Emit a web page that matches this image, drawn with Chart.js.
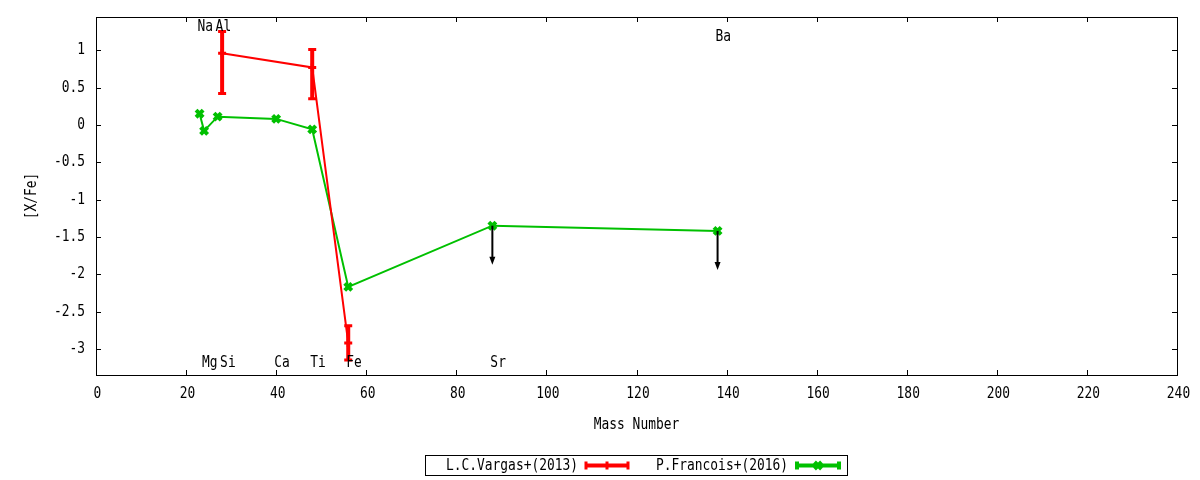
<!DOCTYPE html>
<html>
<head>
<meta charset="utf-8">
<script src="https://cdn.jsdelivr.net/npm/chart.js@4.4.0/dist/chart.umd.min.js"></script>
<style>
html, body { margin: 0; padding: 0; background: #fff; }
</style>
</head>
<body>
<canvas id="c" width="1200" height="480"></canvas>
<script>
// L.C.Vargas+(2013): value with asymmetric error bars
var vargasMass = [28, 48, 56];
var vargasVal = [0.96, 0.77, -2.92];
var vargasLow = [0.42, 0.35, -3.15];
var vargasHigh = [1.25, 1.01, -2.69];

// P.Francois+(2016): last two are upper limits
var francoisMass = [23, 24, 27, 40, 48, 56, 88, 138];
var francoisVal = [0.15, -0.08, 0.11, 0.08, -0.06, -2.17, -1.35, -1.42];
var francoisLimit = [false, false, false, false, false, false, true, true];

// element names written on the plot
var labelNames = ['Na', 'Mg', 'Al', 'Si', 'Ca', 'Ti', 'Fe', 'Sr', 'Ba'];
var labelMass = [23, 24, 27, 28, 40, 48, 56, 88, 138];
var labelY = [1.31, -3.19, 1.31, -3.19, -3.19, -3.19, -3.19, -3.19, 1.18];

var RED = '#ff0000';
var GREEN = '#00c000';
// gnuplot's mono font is narrower than DejaVu Sans Mono at the same height
var FONT = '16px "DejaVu Sans Mono"';
var SQUEEZE = 0.806;

Chart.defaults.font.family = '"DejaVu Sans Mono"';
Chart.defaults.font.size = 13;
Chart.defaults.color = '#000';

function pts(xs, ys) {
    var out = [];
    for (var i = 0; i < xs.length; i++) out.push({x: xs[i], y: ys[i]});
    return out;
}

function text(ctx, s, x, y, align, rot) {
    ctx.save();
    ctx.translate(x, y);
    if (rot) ctx.rotate(rot);
    ctx.scale(SQUEEZE, 1);
    ctx.font = FONT;
    ctx.fillStyle = '#000';
    ctx.textAlign = align;
    ctx.textBaseline = 'middle';
    ctx.fillText(s, 0, 0);
    ctx.restore();
}

function fmt(v) {
    return String(Math.round(v * 10) / 10);
}

function drawCapBar(ctx, x, y1, y2, color) {
    ctx.strokeStyle = color;
    ctx.lineWidth = 4;
    ctx.beginPath();
    ctx.moveTo(x, y1); ctx.lineTo(x, y2);
    ctx.stroke();
    ctx.lineWidth = 3;
    ctx.beginPath();
    ctx.moveTo(x - 4, y1); ctx.lineTo(x + 4, y1);
    ctx.moveTo(x - 4, y2); ctx.lineTo(x + 4, y2);
    ctx.stroke();
}

var gnuplotDecor = {
    id: 'gnuplotDecor',
    afterDatasetsDraw: function (chart) {
        var ctx = chart.ctx, xs = chart.scales.x, ys = chart.scales.y;
        ctx.save();
        // error bars
        for (var i = 0; i < vargasMass.length; i++) {
            var px = xs.getPixelForValue(vargasMass[i]);
            drawCapBar(ctx, px, ys.getPixelForValue(vargasHigh[i]), ys.getPixelForValue(vargasLow[i]), RED);
        }
        // upper limit arrows
        ctx.strokeStyle = '#000';
        ctx.fillStyle = '#000';
        ctx.lineWidth = 2;
        for (var j = 0; j < francoisMass.length; j++) {
            if (!francoisLimit[j]) continue;
            var ax = xs.getPixelForValue(francoisMass[j]);
            var ay = ys.getPixelForValue(francoisVal[j]);
            var tip = ay + 39;
            ctx.beginPath();
            ctx.moveTo(ax, ay); ctx.lineTo(ax, tip - 6);
            ctx.stroke();
            ctx.beginPath();
            ctx.moveTo(ax - 3, tip - 8); ctx.lineTo(ax + 3, tip - 8); ctx.lineTo(ax, tip);
            ctx.closePath();
            ctx.fill();
        }
        ctx.restore();
    },
    afterDraw: function (chart) {
        var ctx = chart.ctx, a = chart.chartArea, xs = chart.scales.x, ys = chart.scales.y;
        ctx.save();
        ctx.strokeStyle = '#000';
        ctx.lineWidth = 1;
        // border
        ctx.strokeRect(Math.round(a.left) + 0.5, Math.round(a.top) + 0.5,
            Math.round(a.right - a.left), Math.round(a.bottom - a.top));
        // inward ticks on all four sides, with their labels
        ctx.beginPath();
        xs.ticks.forEach(function (t) {
            var p = Math.round(xs.getPixelForValue(t.value)) + 0.5;
            ctx.moveTo(p, a.bottom); ctx.lineTo(p, a.bottom - 5);
            ctx.moveTo(p, a.top); ctx.lineTo(p, a.top + 5);
        });
        ys.ticks.forEach(function (t) {
            var p = Math.round(ys.getPixelForValue(t.value)) + 0.5;
            ctx.moveTo(a.left, p); ctx.lineTo(a.left + 5, p);
            ctx.moveTo(a.right, p); ctx.lineTo(a.right - 5, p);
        });
        ctx.stroke();
        xs.ticks.forEach(function (t) {
            text(ctx, fmt(t.value), xs.getPixelForValue(t.value) + 1.5, a.bottom + 19, 'center');
        });
        ys.ticks.forEach(function (t) {
            text(ctx, fmt(t.value), a.left - 11, ys.getPixelForValue(t.value), 'right');
        });

        // element labels
        for (var i = 0; i < labelNames.length; i++) {
            text(ctx, labelNames[i], xs.getPixelForValue(labelMass[i]) - 2, ys.getPixelForValue(labelY[i]), 'left');
        }

        // axis titles
        text(ctx, 'Mass Number', (a.left + a.right) / 2, 425, 'center');
        text(ctx, '[X/Fe]', 32, (a.top + a.bottom) / 2, 'center', -Math.PI / 2);

        // legend
        var ds = chart.data.datasets;
        ctx.strokeStyle = '#000';
        ctx.lineWidth = 1;
        ctx.strokeRect(425.5, 455.5, 422, 20);
        var ly = 465.5;
        text(ctx, ds[0].label, 578, ly, 'right');
        text(ctx, ds[1].label, 788, ly, 'right');
        [[586, 628, RED, false], [797, 839, GREEN, true]].forEach(function (s) {
            ctx.strokeStyle = s[2];
            ctx.lineWidth = 4;
            ctx.beginPath();
            ctx.moveTo(s[0], ly); ctx.lineTo(s[1], ly);
            ctx.stroke();
            ctx.lineWidth = 3;
            var mid = (s[0] + s[1]) / 2;
            ctx.beginPath();
            ctx.moveTo(s[0], ly - 4); ctx.lineTo(s[0], ly + 4);
            ctx.moveTo(s[1], ly - 4); ctx.lineTo(s[1], ly + 4);
            if (s[3]) {
                ctx.lineWidth = 4;
                ctx.moveTo(mid - 3.5, ly - 3.5); ctx.lineTo(mid + 3.5, ly + 3.5);
                ctx.moveTo(mid - 3.5, ly + 3.5); ctx.lineTo(mid + 3.5, ly - 3.5);
            } else {
                ctx.moveTo(mid, ly - 4); ctx.lineTo(mid, ly + 4);
            }
            ctx.stroke();
        });
        ctx.restore();
    }
};

var ctx = document.getElementById('c').getContext('2d');
var chart = new Chart(ctx, {
    type: 'scatter',
    data: {
        datasets: [{
            label: 'L.C.Vargas+(2013)',
            data: pts(vargasMass, vargasVal),
            showLine: true,
            borderColor: RED,
            backgroundColor: RED,
            borderWidth: 2,
            pointStyle: 'cross',
            pointRadius: 4,
            pointBorderWidth: 3,
            pointHoverRadius: 4
        }, {
            label: 'P.Francois+(2016)',
            data: pts(francoisMass, francoisVal),
            showLine: true,
            borderColor: GREEN,
            backgroundColor: GREEN,
            borderWidth: 2,
            pointStyle: 'crossRot',
            pointRadius: 5,
            pointBorderWidth: 4,
            pointHoverRadius: 5
        }]
    },
    options: {
        responsive: false,
        animation: false,
        devicePixelRatio: 1,
        layout: {padding: {top: 17, right: 23, left: 0, bottom: 0}},
        plugins: {
            legend: {display: false},
            tooltip: {enabled: false}
        },
        scales: {
            x: {
                type: 'linear',
                min: 0,
                max: 240,
                afterFit: function (s) { s.height = 105; },
                grid: {display: false, drawTicks: false},
                border: {display: false},
                ticks: {display: false, stepSize: 20, includeBounds: false}
            },
            y: {
                type: 'linear',
                min: -3.35,
                max: 1.445,
                afterFit: function (s) { s.width = 96; },
                grid: {display: false, drawTicks: false},
                border: {display: false},
                ticks: {display: false, stepSize: 0.5, includeBounds: false}
            }
        }
    },
    plugins: [gnuplotDecor]
});
</script>
</body>
</html>
